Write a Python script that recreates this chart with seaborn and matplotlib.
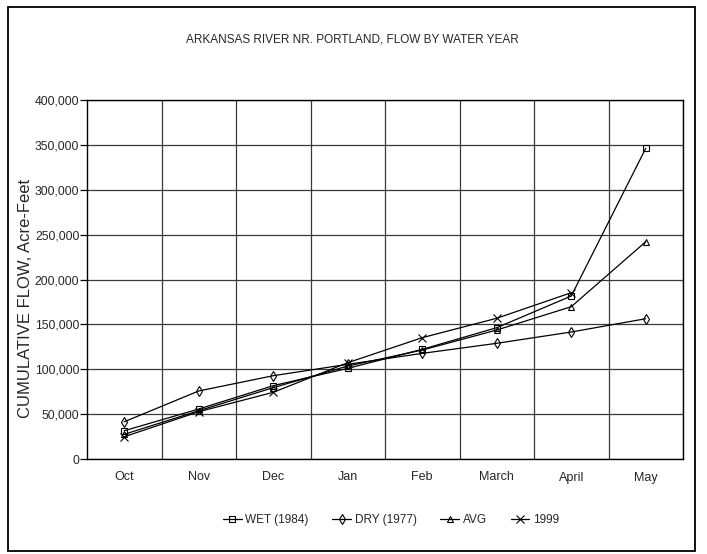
import matplotlib
matplotlib.use("Agg")
import matplotlib.pyplot as plt
import matplotlib.patches as mpatches
from matplotlib.ticker import FuncFormatter, MultipleLocator, FixedLocator
import seaborn as sns
import pandas as pd

# Cumulative flow, acre-feet, by month of the water year
months = ["Oct", "Nov", "Dec", "Jan", "Feb", "March", "April", "May"]
wet_1984 = [31500, 55700, 81700, 101000, 122200, 146300, 181600, 346200]
dry_1977 = [41500, 75800, 92800, 105500, 117700, 128900, 141500, 156300]
avg_flow = [27500, 53800, 79500, 103600, 121400, 143700, 169700, 242100]
year_1999 = [24800, 52700, 74300, 107300, 135200, 156800, 185300]

series_names = ["WET (1984)", "DRY (1977)", "AVG", "1999"]
series_values = [wet_1984, dry_1977, avg_flow, year_1999]
series_markers = ["s", "d", "^", "x"]

sns.set_theme(style="white")
plt.rcParams["font.family"] = ["Liberation Sans", "DejaVu Sans"]

fig = plt.figure(figsize=(7.07, 5.54), dpi=100)
ax = fig.add_axes([87 / 707, 1 - 459 / 554, 596 / 707, 359 / 554])

for name, vals, mk in zip(series_names, series_values, series_markers):
    d = pd.DataFrame({"month": range(len(vals)), "flow": vals})
    sns.lineplot(
        data=d, x="month", y="flow", ax=ax, color="black", linewidth=0.9,
        marker=mk, markersize=4.6 if mk != "x" else 5.5,
        markerfacecolor="none", markeredgecolor="black",
        markeredgewidth=0.8, label=name,
    )

ax.set_xlim(-0.5, len(months) - 0.5)
ax.set_ylim(0, 400000)
ax.yaxis.set_major_locator(MultipleLocator(50000))
ax.yaxis.set_major_formatter(FuncFormatter(lambda v, p: f"{int(v):,}"))
ax.xaxis.set_major_locator(FixedLocator(range(len(months))))
ax.set_xticklabels(months)
ax.xaxis.set_minor_locator(FixedLocator([i + 0.5 for i in range(len(months))]))

ax.grid(False)
ax.yaxis.grid(True, which="major", color="#3a3a3a", linewidth=0.9)
ax.xaxis.grid(True, which="minor", color="#3a3a3a", linewidth=0.9)
ax.set_axisbelow(True)

ax.tick_params(axis="x", which="both", length=0, pad=9, labelsize=9)
ax.tick_params(axis="y", which="major", length=5, width=0.9, color="black",
               direction="out", pad=0.5, labelsize=8.7, left=True)
for s in ax.spines.values():
    s.set_color("black")
    s.set_linewidth(1.0)

ax.set_xlabel("")
ax.set_ylabel("CUMULATIVE FLOW, Acre-Feet", fontsize=12)
ax.yaxis.set_label_coords(-0.09, 0.446)

fig.text(352 / 707, 1 - 39 / 554, "ARKANSAS RIVER NR. PORTLAND, FLOW BY WATER YEAR",
         ha="center", va="center", fontsize=8.5,
         family=["Liberation Sans Narrow", "Liberation Sans", "DejaVu Sans"])

handles, labels = ax.get_legend_handles_labels()
ax.get_legend().remove()
fig.legend(handles, labels, loc="center", bbox_to_anchor=(391 / 707, 1 - 520 / 554),
           ncol=4, frameon=False, fontsize=8.5, handlelength=1.6,
           columnspacing=2.0, handletextpad=0.3)

fig.patches.append(mpatches.Rectangle((8 / 707, 1 - 551 / 554), 687 / 707, 544 / 554,
                                      transform=fig.transFigure, fill=False,
                                      edgecolor="black", linewidth=1.3))

fig.savefig("out.png", dpi=100)
